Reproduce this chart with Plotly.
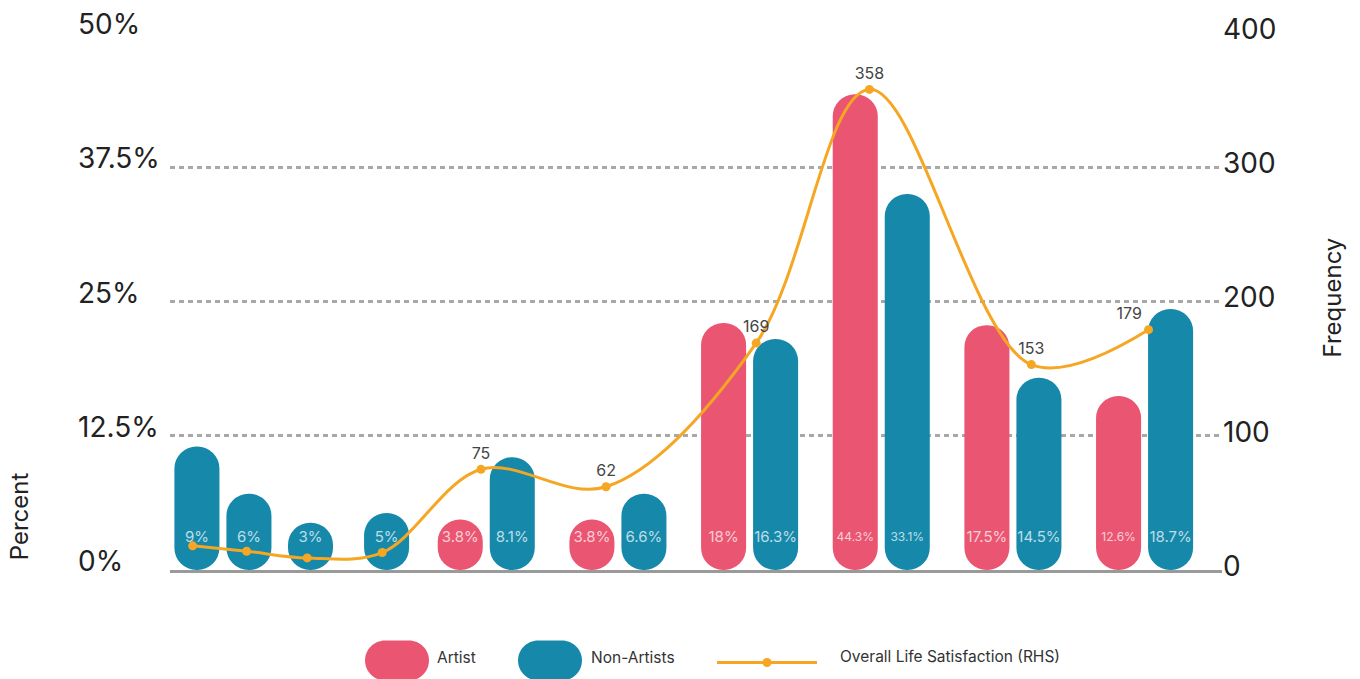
import plotly.graph_objects as go

# left bar of each pair (the first two pairs are both drawn in the non-artist colour)
left_height = [11.5, 4.4, 4.7, 4.7, 23.0, 44.3, 22.8, 16.2]
left_label = ["9%", "3%", "3.8%", "3.8%", "18%", "44.3%", "17.5%", "12.6%"]
left_series = ["Non-Artists", "Non-Artists", "Artist", "Artist", "Artist", "Artist", "Artist", "Artist"]

# right bar of each pair
right_height = [7.1, 5.3, 10.5, 7.1, 21.5, 35.0, 17.9, 24.3]
right_label = ["6%", "5%", "8.1%", "6.6%", "16.3%", "33.1%", "14.5%", "18.7%"]

# overall life satisfaction frequency (RHS), x in group units
freq_x = [-0.23, 0.18, 0.64, 1.21, 1.96, 2.91, 4.05, 4.91, 6.14, 7.03]
freq = [18, 14, 9, 13, 75, 62, 169, 358, 153, 179]
freq_label = ["", "", "", "", "75", "62", "169", "358", "153", "179"]

pct_ticks = [0, 12.5, 25, 37.5, 50]
pct_ticktext = ["0%", "12.5%", "25%", "37.5%", "50%"]
freq_ticks = [0, 100, 200, 300, 400]

COLORS = {"Artist": "#EA5572", "Non-Artists": "#1689AB"}
ORANGE = "#F5A623"
FONT = "Inter, sans-serif"

# figure geometry (pixels)
W, H = 1360, 679
L, R, T, B = 170, 138, 30, 109
OFF = 0.1975   # half the distance between the two bars of a pair
BAR_W = 0.342
# the second pair is spread wider in the original: (centre nudge, half distance)
PAIR_TWEAK = {1: (-0.046, 0.289)}


def px(x):
    return (x - L) / (W - L - R)


def py(y):
    return (H - B - y) / (H - T - B)


fig = go.Figure()

n = len(left_height)
x_left, x_right = [], []
for i in range(n):
    nudge, off = PAIR_TWEAK.get(i, (0, OFF))
    x_left.append(i + nudge - off)
    x_right.append(i + nudge + off)

# pill bars: an explicit base makes plotly round both ends
for xs, heights, colors in [(x_left, left_height, [COLORS[s] for s in left_series]),
                            (x_right, right_height, [COLORS["Non-Artists"]] * n)]:
    fig.add_bar(x=xs, y=heights, base=[0] * n, width=BAR_W, hoverinfo="skip",
                showlegend=False, marker=dict(color=colors, cornerradius="50%", line_width=0))

# value labels inside the bars
labels = left_label + right_label
sizes = [12 if lab in ("44.3%", "33.1%", "12.6%") else 15 for lab in labels]
fig.add_scatter(x=x_left + x_right, y=[3.0] * (2 * n), mode="text", text=labels,
                textfont=dict(family=FONT, size=sizes, color="rgba(255,255,255,0.72)"),
                hoverinfo="skip", showlegend=False, cliponaxis=False)

# frequency line on the right axis
fig.add_scatter(x=freq_x, y=freq, yaxis="y2", mode="lines+markers+text",
                line=dict(color=ORANGE, width=3, shape="spline", smoothing=1.0),
                marker=dict(color=ORANGE, size=9),
                text=freq_label,
                textposition=["top center"] * 9 + ["top left"],
                textfont=dict(family=FONT, size=16, color="#444"),
                hoverinfo="skip", showlegend=False, cliponaxis=False)

fig.update_layout(
    width=W, height=H,
    margin=dict(l=L, r=R, t=T, b=B),
    plot_bgcolor="white", paper_bgcolor="white",
    barmode="overlay", showlegend=False,
    font=dict(family=FONT, color="#222"),
    xaxis=dict(range=[-0.402, 7.588], showgrid=False, showticklabels=False,
               zeroline=False, showline=True, linecolor="#9a9a9a", linewidth=3, ticks=""),
    yaxis=dict(range=[0, 50], tickvals=pct_ticks[1:], showticklabels=False,
               showgrid=True, gridcolor="#a8a8a8", gridwidth=2.5, griddash="5px,4px",
               zeroline=False, ticks=""),
    yaxis2=dict(range=[0, 400], overlaying="y", side="right", tickvals=freq_ticks,
                showgrid=False, zeroline=False, ticks="", ticklabelshift=-4,
                tickfont=dict(family=FONT, size=28, color="#222")),
)

# left tick labels, left aligned like the original
for v, t in zip(pct_ticks, pct_ticktext):
    fig.add_annotation(x=px(76), xref="paper", y=v, yref="y", yshift=9,
                       text=t, showarrow=False, xanchor="left", yanchor="middle",
                       font=dict(family=FONT, size=28, color="#222"))

# axis titles
fig.add_annotation(x=px(19), xref="paper", y=py(516), yref="paper", text="Percent",
                   textangle=-90, showarrow=False, xanchor="center", yanchor="middle",
                   font=dict(family=FONT, size=24, color="#222"))
fig.add_annotation(x=px(1333), xref="paper", y=py(296), yref="paper", text="Frequency",
                   textangle=-90, showarrow=False, xanchor="center", yanchor="middle",
                   font=dict(family=FONT, size=24, color="#222"))

# hand-made legend with pill swatches
PILL = ("M -12,-20 L 12,-20 C 23,-20 32,-11 32,0 C 32,11 23,20 12,20 "
        "L -12,20 C -23,20 -32,11 -32,0 C -32,-11 -23,-20 -12,-20 Z")
legend_y = py(661)
for cx, name, tx in [(397, "Artist", 435), (550, "Non-Artists", 589)]:
    fig.add_shape(type="path", path=PILL, xref="paper", yref="paper",
                  xsizemode="pixel", ysizemode="pixel", xanchor=px(cx), yanchor=legend_y,
                  fillcolor=COLORS[name], line_width=0)
    fig.add_annotation(x=px(tx), xref="paper", y=py(658), yref="paper", text=name,
                       showarrow=False, xanchor="left", yanchor="middle",
                       font=dict(family=FONT, size=15.5, color="#333"))

fig.add_shape(type="line", xref="paper", yref="paper", x0=px(717), x1=px(817),
              y0=py(663), y1=py(663), line=dict(color=ORANGE, width=3))
fig.add_shape(type="circle", xref="paper", yref="paper", xsizemode="pixel", ysizemode="pixel",
              xanchor=px(767), yanchor=py(663), x0=-4.5, x1=4.5, y0=-4.5, y1=4.5,
              fillcolor=ORANGE, line_width=0)
fig.add_annotation(x=px(838), xref="paper", y=py(657), yref="paper",
                   text="Overall Life Satisfaction (RHS)", showarrow=False,
                   xanchor="left", yanchor="middle",
                   font=dict(family=FONT, size=15.5, color="#333"))

# drop the default body margin so the figure sits at the window origin
fig.write_html("out.html", config={"displayModeBar": False},
               post_script="document.body.style.margin='0';")
